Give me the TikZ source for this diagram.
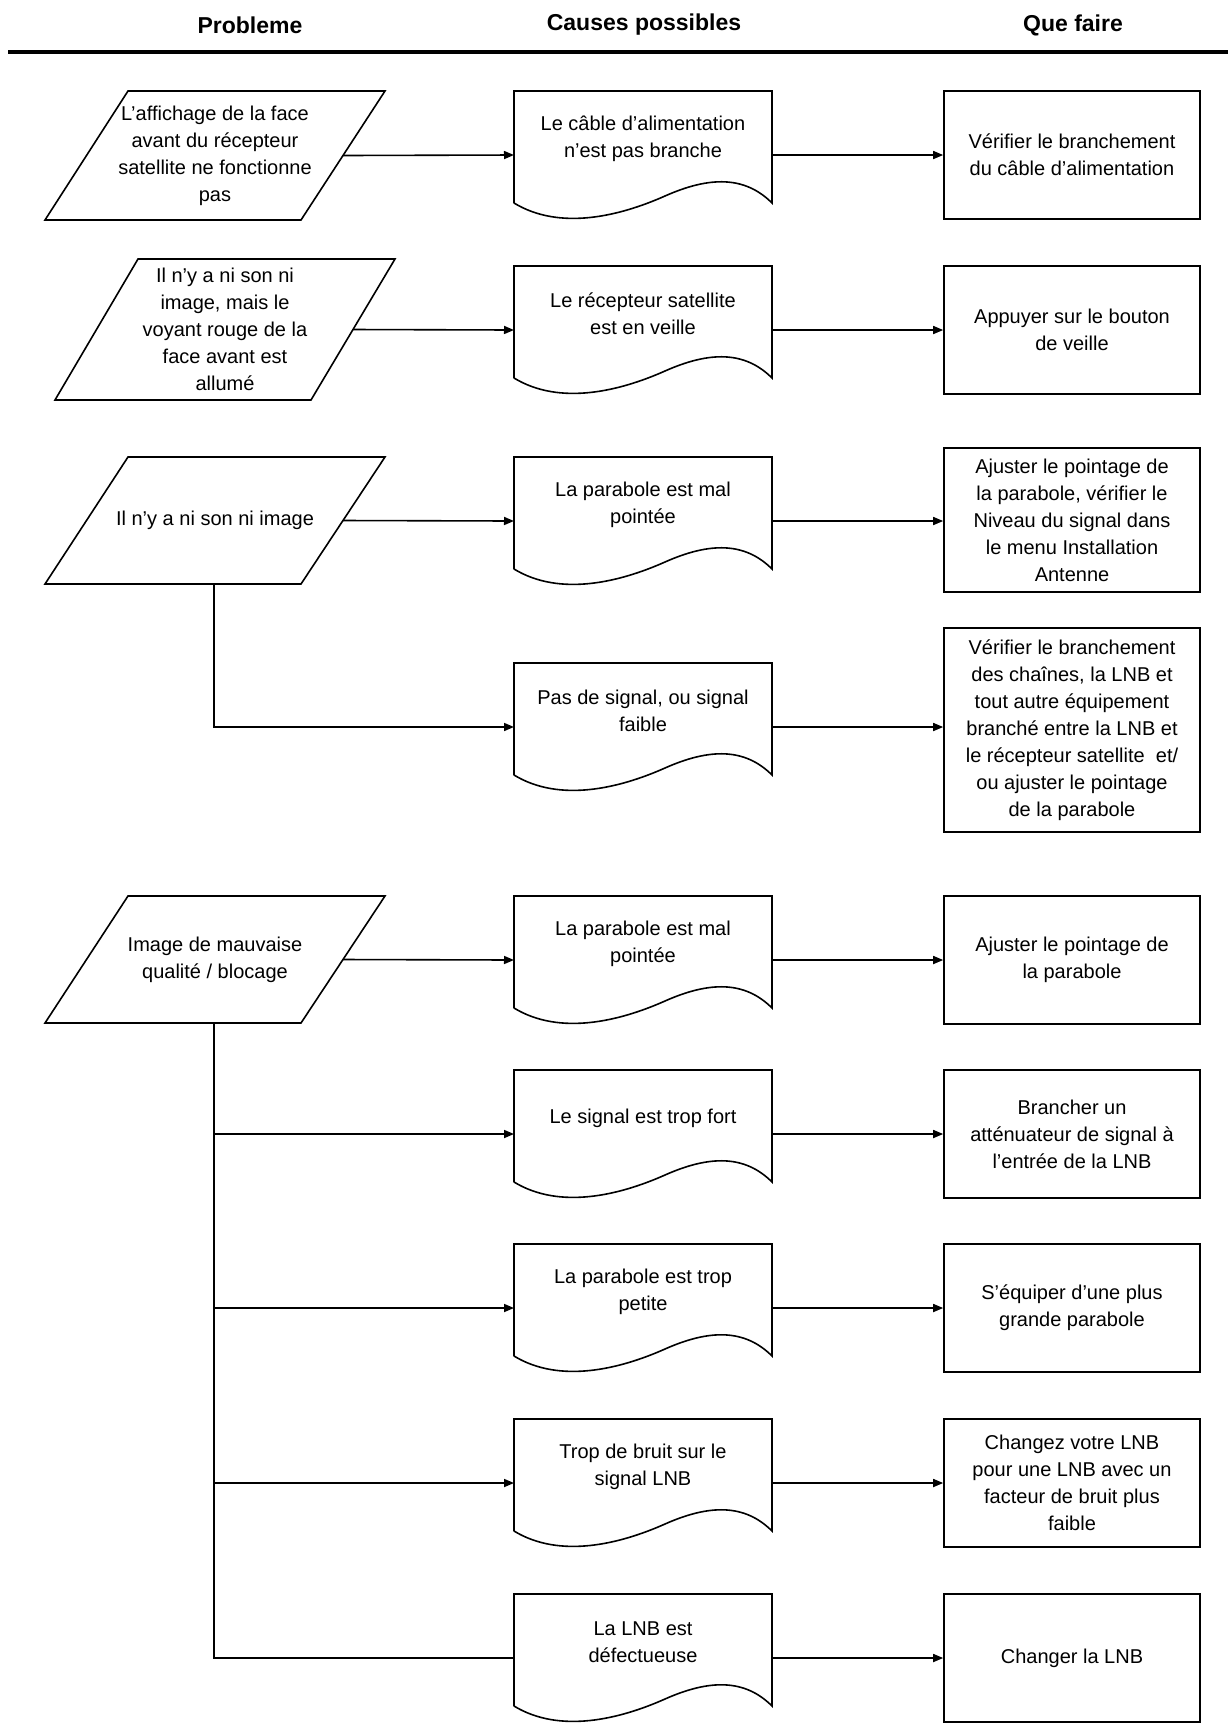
\documentclass[tikz,border=0pt]{standalone}
\usepackage{fontspec}
\setmainfont{Liberation Sans}
\usetikzlibrary{arrows.meta}

\tikzset{
    txt/.style={align=center, font=\fontsize{10}{13.5}\selectfont, inner sep=0pt},
    head/.style={font=\fontsize{11.5}{14}\selectfont\bfseries, inner sep=0pt},
    todo/.style={draw, thick, minimum width=128pt, txt},
    link/.style={thick},
    arr/.style={thick, -{Triangle[length=5pt,width=4pt]}},
}

% parallelogram: name, top y, height, x shift, text
\newcommand{\Probleme}[5]{
    \draw[thick] (128+#4,#2) -- (385+#4,#2) -- (301+#4,#2+#3) -- (45+#4,#2+#3) -- cycle;
    \node[txt] (#1) at (215+#4,#2+#3/2) {#5};
    \coordinate (#1e) at (343+#4,#2+#3/2);
    \coordinate (#1s) at (214,#2+#3);
}
% document shape: name, top y, text
\newcommand{\Cause}[3]{
    \draw[thick] (514,#2+112) -- (514,#2) -- (772,#2) -- (772,#2+112)
        .. controls (745,#2+85) and (710,#2+85) .. (665,#2+105)
        .. controls (620,#2+125) and (560,#2+140) .. (514,#2+112);
    \node[txt] (#1) at (643,#2+48) {#3};
    \coordinate (#1w) at (514,#2+64);
    \coordinate (#1e) at (772,#2+64);
}

\begin{document}
\begin{tikzpicture}[x=0.5pt, y=-0.5pt]
    \useasboundingbox (0,0) rectangle (1228,1726);
    \node[head] (h1) at (250,25) {Probleme};
    \node[head] (h2) at (644,25) {Causes possibles};
    \node[head] (h3) at (1073,25) {Que faire};
    \draw[line width=2pt] (8,52) -- (1228,52);

    \Probleme{p1}{91}{129}{0}{L'affichage de la face\\avant du récepteur\\satellite ne fonctionne\\pas}
    \Probleme{p2}{259}{141}{10}{Il n'y a ni son ni\\image, mais le\\voyant rouge de la\\face avant est\\allumé}
    \Probleme{p3}{457}{127}{0}{Il n'y a ni son ni image}
    \Probleme{p4}{896}{127}{0}{Image de mauvaise\\qualité / blocage}

    \Cause{c1}{91}{Le câble d'alimentation\\n'est pas branche}
    \Cause{c2}{266}{Le récepteur satellite\\est en veille}
    \Cause{c3}{457}{La parabole est mal\\pointée}
    \Cause{c4}{663}{Pas de signal, ou signal\\faible}
    \Cause{c5}{896}{La parabole est mal\\pointée}
    \Cause{c6}{1070}{Le signal est trop fort}
    \Cause{c7}{1244}{La parabole est trop\\petite}
    \Cause{c8}{1419}{Trop de bruit sur le\\signal LNB}
    \Cause{c9}{1594}{La LNB est\\défectueuse}

    \node[todo, minimum height=64pt] (a1) at (1072,155) {Vérifier le branchement\\du câble d'alimentation};
    \node[todo, minimum height=64pt] (a2) at (1072,330) {Appuyer sur le bouton\\de veille};
    \node[todo, minimum height=72pt] (a3) at (1072,520) {Ajuster le pointage de\\la parabole, vérifier le\\Niveau du signal dans\\le menu Installation\\Antenne};
    \node[todo, minimum height=102pt] (a4) at (1072,730) {Vérifier le branchement\\des chaînes, la LNB et\\tout autre équipement\\branché entre la LNB et\\le récepteur satellite\ \ et/\\ou ajuster le pointage\\de la parabole};
    \node[todo, minimum height=64pt] (a5) at (1072,960) {Ajuster le pointage de\\la parabole};
    \node[todo, minimum height=64pt] (a6) at (1072,1134) {Brancher un\\atténuateur de signal à\\l'entrée de la LNB};
    \node[todo, minimum height=64pt] (a7) at (1072,1308) {S'équiper d'une plus\\grande parabole};
    \node[todo, minimum height=64pt] (a8) at (1072,1483) {Changez votre LNB\\pour une LNB avec un\\facteur de bruit plus\\faible};
    \node[todo, minimum height=64pt] (a9) at (1072,1658) {Changer la LNB};

    % problemes -> causes
    \draw[arr] (p1e) -- (c1w);
    \draw[arr] (p2e) -- (c2w);
    \draw[arr] (p3e) -- (c3w);
    \draw[arr] (p3s) |- (c4w);
    \draw[arr] (p4e) -- (c5w);
    \draw[link] (p4s) |- (c9w);
    \foreach \c in {c6,c7,c8}
        \draw[arr] (p4s |- \c w) -- (\c w);

    % causes -> que faire
    \foreach \i in {1,...,9}
        \draw[arr] (c\i e) -- (c\i e -| a\i.west);
\end{tikzpicture}
\end{document}
